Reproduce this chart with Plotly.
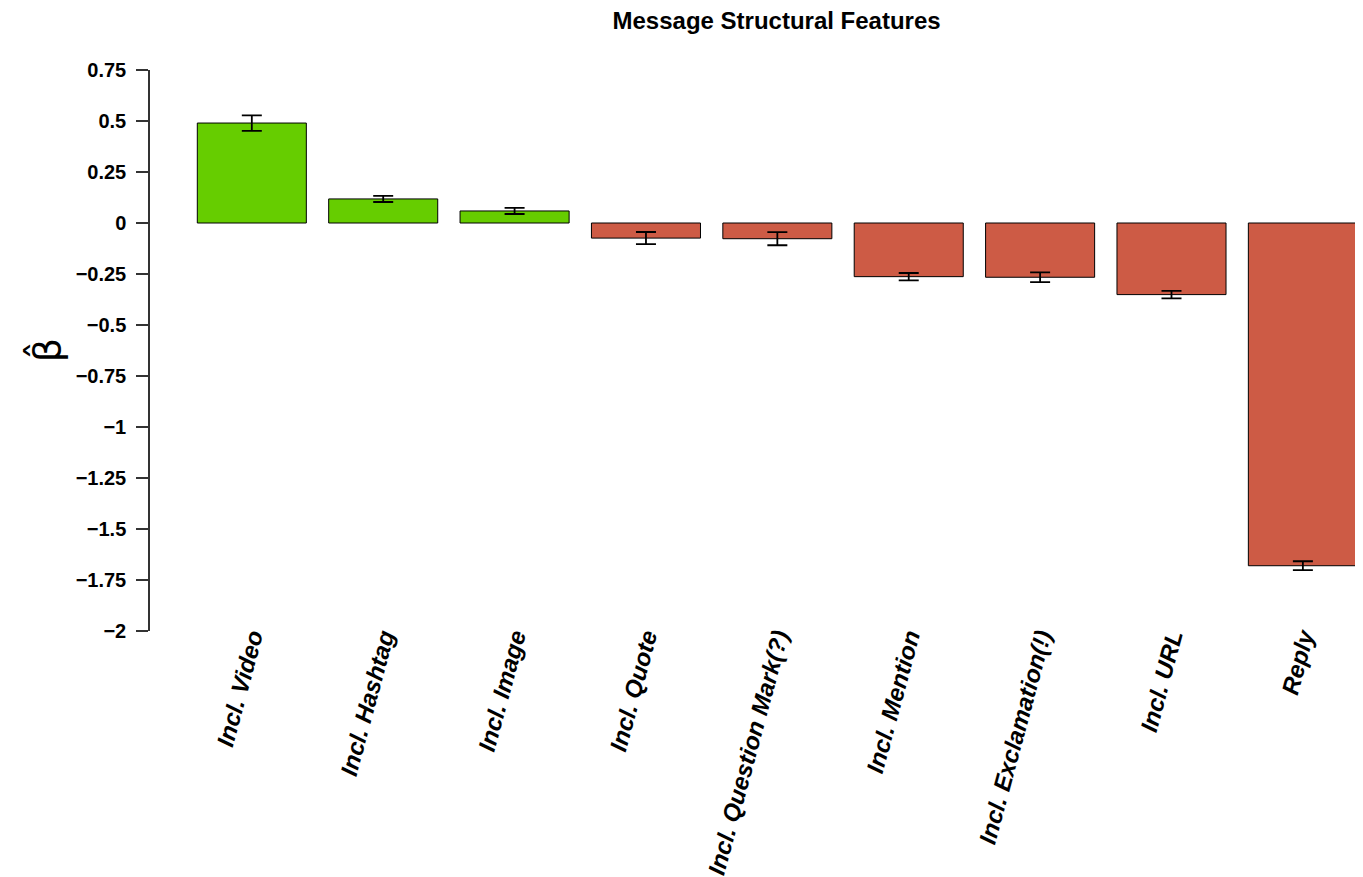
import plotly.graph_objects as go

categories = ["Incl. Video", "Incl. Hashtag", "Incl. Image", "Incl. Quote",
              "Incl. Question Mark(?)", "Incl. Mention", "Incl. Exclamation(!)",
              "Incl. URL", "Reply"]
beta = [0.49, 0.118, 0.059, -0.074, -0.077, -0.263, -0.266, -0.351, -1.68]
stderr = [0.038, 0.015, 0.015, 0.03, 0.032, 0.018, 0.024, 0.018, 0.022]
tick_vals = [0.75, 0.5, 0.25, 0, -0.25, -0.5, -0.75, -1, -1.25, -1.5, -1.75, -2]
tick_text = ["0.75", "0.5", "0.25", "0", "\u22120.25", "\u22120.5", "\u22120.75", "\u22121",
             "\u22121.25", "\u22121.5", "\u22121.75", "\u22122"]

POS_COLOR = "#66CD00"
NEG_COLOR = "#CD5B45"
colors = [POS_COLOR if v >= 0 else NEG_COLOR for v in beta]

FONT = "Liberation Sans, Arial, Helvetica, sans-serif"

fig = go.Figure()
fig.add_trace(go.Bar(
    x=categories, y=beta,
    marker=dict(color=colors, line=dict(color="black", width=1)),
    error_y=dict(type="data", array=stderr, visible=True,
                 color="black", thickness=1.8, width=10),
    showlegend=False,
))

fig.update_layout(
    width=1355, height=869,
    paper_bgcolor="white", plot_bgcolor="white",
    margin=dict(l=142, r=1, t=62, b=246),
    bargap=0.17,
    font=dict(family=FONT, color="black"),
    title=dict(text="<b>Message Structural Features</b>", x=0.517, xref="paper",
               xanchor="center", y=0.986, yref="container", yanchor="middle",
               font=dict(size=24, family=FONT, color="black")),
    xaxis=dict(range=[-0.775, 8.45], showgrid=False, zeroline=False, showline=False,
               ticks="", tickangle=-75, automargin=False, ticklabelstandoff=-14,
               tickfont=dict(size=24, family=FONT, weight="bold", style="italic", color="black")),
    yaxis=dict(range=[-2, 0.75], showgrid=False, zeroline=False, showline=True,
               linecolor="#333333", linewidth=1.5, ticks="outside", ticklen=12,
               tickwidth=1.5, tickcolor="#333333", tickvals=tick_vals, ticktext=tick_text,
               automargin=False, ticklabelstandoff=6,
               tickfont=dict(size=20, family=FONT, weight="bold", color="black")),
    annotations=[dict(text="\u03b2\u0302", xref="paper", yref="paper", x=-0.086, y=0.5,
                      xanchor="center", yanchor="middle", textangle=-90, showarrow=False,
                      font=dict(size=38, family="DejaVu Sans", color="black"))],
)

fig.write_html("out.html")
